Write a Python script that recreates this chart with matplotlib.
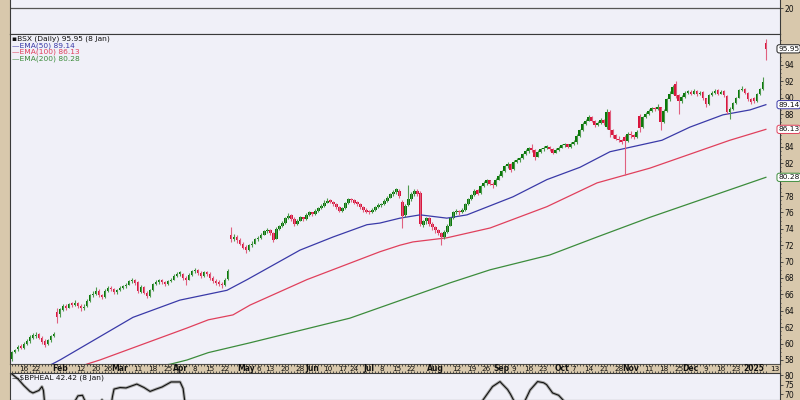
import numpy as np
import pandas as pd
import matplotlib
matplotlib.use("Agg")
import matplotlib.pyplot as plt
import matplotlib.transforms as mtransforms

# ---- data (BSX daily, 9 Jan 2024 .. 8 Jan 2025) ----
holidays = ["2024-01-15", "2024-02-19", "2024-03-29", "2024-05-27", "2024-06-19",
            "2024-07-04", "2024-09-02", "2024-11-28", "2024-12-25", "2025-01-01"]
dates = pd.bdate_range("2024-01-09", "2025-01-08", freq="C", holidays=holidays)

opens = [
    # Jan
    58.1, 59.0, 59.3, 59.7, 59.5, 59.9, 60.3, 60.7, 60.9, 61.2, 60.7, 60.3, 59.9, 60.4, 60.9, 63.9,
    # Feb
    63.6, 64.1, 64.6, 64.4, 64.9, 64.7, 65.0, 64.6, 64.3, 64.6, 65.2, 65.9, 66.1, 66.4, 65.9, 65.7,
    66.4, 66.8, 66.7, 66.3,
    # Mar
    66.5, 66.8, 67.0, 67.2, 67.6, 67.8, 67.5, 66.3, 66.9, 66.2, 65.8, 66.5, 67.3, 67.5, 67.8, 67.5,
    67.3, 67.6, 67.8, 68.3,
    # Apr
    68.5, 68.5, 68.0, 67.8, 68.4, 68.8, 69.0, 68.6, 68.2, 68.7, 68.5, 68.0, 67.6, 67.4, 67.3, 67.1,
    67.9, 73.3, 72.8, 73.0, 72.6, 72.2,
    # May
    71.8, 71.4, 72.0, 72.2, 72.7, 72.9, 73.3, 73.7, 73.9, 73.5, 72.8, 74.0, 74.3, 74.7, 75.3, 75.7,
    75.2, 74.6, 75.0, 75.4, 75.2, 75.7,
    # Jun
    76.0, 75.8, 76.2, 76.5, 76.8, 77.2, 77.4, 77.3, 77.0, 76.6, 76.2, 76.5, 77.1, 77.6, 77.5, 77.3,
    77.0, 76.6, 76.3,
    # Jul
    76.1, 76.0, 76.3, 76.6, 76.9, 77.0, 77.4, 77.8, 78.2, 78.5, 78.6, 77.3, 75.7, 76.9, 77.6, 78.3,
    78.6, 78.4, 74.5, 74.9, 75.3, 74.6,
    # Aug
    74.2, 73.8, 73.5, 73.0, 73.6, 74.4, 75.3, 76.0, 76.2, 76.0, 76.3, 77.0, 77.6, 78.1, 78.7, 78.4,
    79.2, 79.6, 79.9, 79.5, 79.3, 80.0,
    # Sep
    80.4, 81.0, 81.6, 81.9, 81.3, 82.2, 82.4, 82.6, 83.1, 83.5, 83.8, 83.6, 82.8, 83.4, 83.7, 83.9,
    84.0, 83.7, 83.3, 83.6,
    # Oct
    83.9, 84.2, 84.3, 84.0, 84.4, 84.6, 85.3, 86.0, 86.8, 87.2, 87.6, 87.2, 86.6, 86.9, 87.3, 86.4,
    88.3, 86.0, 85.4, 85.0, 84.8, 85.2, 84.7,
    # Nov
    85.6, 85.4, 85.2, 87.8, 86.4, 87.6, 88.0, 88.4, 88.7, 88.6, 88.8, 87.0, 88.4, 89.8, 90.5, 91.7,
    90.3, 89.6, 90.1, 90.6,
    # Dec
    90.7, 90.5, 90.8, 90.4, 90.7, 89.9, 89.2, 90.3, 90.6, 90.9, 90.5, 90.8, 90.2, 88.2, 88.6, 89.3,
    90.0, 90.9, 91.1, 90.6, 89.8,
    # Jan 2025
    89.9, 89.6, 90.4, 91.0, 96.7,
]
highs = [
    59.1, 59.4, 59.8, 59.9, 60.2, 60.5, 61.0, 61.3, 61.4, 61.3, 60.9, 60.5, 60.6, 61.0, 61.4, 64.3,
    64.4, 64.8, 64.8, 65.0, 65.1, 65.3, 65.1, 64.8, 64.8, 65.4, 66.1, 66.4, 66.9, 66.6, 66.1, 66.7,
    67.0, 67.0, 66.8, 66.7,
    67.0, 67.2, 67.4, 67.8, 68.0, 67.9, 67.6, 67.1, 67.0, 66.4, 66.7, 67.4, 67.7, 67.9, 67.9, 67.6,
    67.8, 68.0, 68.5, 68.7,
    68.9, 68.6, 68.2, 68.6, 69.0, 69.2, 69.1, 68.8, 68.9, 68.9, 68.7, 68.2, 67.9, 67.7, 67.5, 68.0,
    69.1, 74.2, 73.4, 73.2, 72.9, 72.4,
    72.0, 72.2, 72.5, 72.9, 73.1, 73.5, 73.9, 74.1, 74.0, 73.6, 74.2, 74.5, 74.9, 75.5, 75.9, 75.8,
    75.4, 75.2, 75.6, 75.5, 75.9, 76.2,
    76.1, 76.4, 76.7, 77.0, 77.5, 77.7, 77.6, 77.4, 77.1, 76.8, 76.7, 77.3, 77.8, 77.8, 77.6, 77.4,
    77.1, 76.8, 76.5,
    76.3, 76.5, 76.8, 77.1, 77.2, 77.6, 78.0, 78.4, 78.7, 79.0, 78.8, 77.5, 77.0, 79.3, 78.5, 78.8,
    78.9, 78.6, 75.1, 75.5, 75.4, 74.8,
    74.4, 74.0, 73.6, 73.8, 74.6, 75.5, 76.2, 76.4, 76.3, 76.5, 77.2, 77.8, 78.3, 78.8, 78.9, 79.4,
    79.8, 80.1, 80.0, 79.7, 80.2, 80.7,
    81.2, 81.8, 82.1, 82.0, 82.4, 82.6, 82.8, 83.3, 83.7, 84.0, 84.3, 83.7, 83.6, 83.9, 84.1, 84.2,
    84.1, 83.8, 83.8, 84.1,
    84.4, 84.5, 84.4, 84.6, 84.8, 85.6, 86.2, 87.0, 87.4, 87.9, 87.7, 87.3, 87.1, 87.5, 87.4, 88.6,
    88.5, 86.2, 85.6, 85.3, 85.0, 85.4, 85.8,
    85.9, 85.6, 86.1, 88.0, 87.8, 88.2, 88.6, 88.9, 88.9, 89.2, 88.9, 88.6, 90.0, 90.8, 91.5, 92.0,
    90.5, 90.3, 90.8, 90.9,
    90.9, 91.0, 90.9, 90.8, 90.8, 90.0, 90.5, 90.8, 91.0, 91.0, 90.9, 90.9, 90.3, 88.8, 89.5, 90.1,
    91.1, 91.4, 91.2, 90.7, 90.0,
    90.1, 90.6, 91.2, 92.5, 97.1,
]
lows = [
    57.9, 58.8, 59.1, 59.3, 59.3, 59.8, 60.1, 60.5, 60.7, 60.5, 60.0, 59.6, 59.8, 60.2, 60.8, 62.5,
    63.2, 64.0, 64.1, 64.3, 64.5, 64.6, 64.4, 64.0, 64.1, 64.5, 65.1, 65.7, 65.9, 65.7, 65.4, 65.6,
    66.3, 66.4, 66.1, 66.1,
    66.4, 66.6, 66.8, 67.1, 67.4, 67.2, 66.2, 66.2, 66.0, 65.5, 65.7, 66.4, 67.1, 67.3, 67.3, 67.0,
    67.2, 67.5, 67.7, 68.1,
    68.2, 67.8, 67.1, 67.7, 68.3, 68.6, 68.4, 68.0, 68.1, 68.3, 67.8, 67.4, 67.2, 67.0, 66.8, 67.0,
    67.8, 72.4, 72.5, 72.3, 72.0, 71.5,
    71.0, 71.3, 71.8, 72.1, 72.5, 72.8, 73.2, 73.5, 73.3, 72.4, 72.7, 73.9, 74.2, 74.6, 75.2, 75.0,
    74.3, 74.5, 74.9, 75.0, 75.1, 75.6,
    75.6, 75.7, 76.1, 76.4, 76.7, 77.1, 77.1, 76.8, 76.4, 76.0, 76.1, 76.4, 77.0, 77.3, 77.0, 76.8,
    76.4, 76.1, 75.9,
    75.8, 75.9, 76.2, 76.5, 76.7, 76.9, 77.3, 77.7, 78.0, 78.3, 77.8, 74.1, 75.5, 76.8, 77.4, 78.0,
    78.0, 74.3, 74.2, 74.6, 74.4, 73.9,
    73.5, 73.2, 72.0, 72.8, 73.5, 74.3, 75.2, 75.8, 75.7, 75.9, 76.2, 76.9, 77.5, 78.0, 78.1, 78.3,
    79.1, 79.4, 79.3, 79.0, 79.2, 79.9,
    80.3, 80.9, 81.4, 80.9, 81.2, 82.0, 82.2, 82.5, 83.0, 83.3, 83.4, 82.4, 82.7, 83.3, 83.5, 83.7,
    83.5, 83.1, 83.2, 83.5,
    83.8, 84.0, 83.8, 83.9, 84.2, 84.3, 85.2, 85.9, 86.6, 87.1, 87.0, 86.4, 86.5, 86.8, 86.7, 86.2,
    85.2, 85.1, 84.8, 84.6, 84.3, 80.6, 84.6,
    85.1, 84.9, 85.1, 85.8, 86.3, 87.5, 87.9, 88.3, 88.4, 88.5, 86.0, 86.9, 88.3, 89.6, 90.4, 89.9,
    88.0, 89.4, 90.0, 90.4,
    90.3, 90.4, 90.2, 90.3, 89.7, 88.9, 89.1, 90.2, 90.5, 90.3, 90.4, 90.1, 88.0, 87.4, 88.5, 89.2,
    89.9, 90.8, 90.4, 89.6, 89.2,
    89.3, 89.5, 90.3, 90.9, 94.6,
]
closes = [
    59.0, 59.2, 59.6, 59.5, 60.0, 60.3, 60.8, 61.0, 61.1, 60.7, 60.2, 59.8, 60.4, 60.9, 61.2, 63.3,
    64.2, 64.6, 64.4, 64.8, 64.7, 65.0, 64.6, 64.3, 64.5, 65.2, 65.9, 66.1, 66.4, 65.9, 65.7, 66.4,
    66.8, 66.6, 66.3, 66.5,
    66.8, 67.0, 67.2, 67.6, 67.8, 67.4, 66.4, 66.9, 66.2, 65.8, 66.5, 67.3, 67.5, 67.7, 67.5, 67.3,
    67.6, 67.8, 68.3, 68.5,
    68.6, 68.0, 67.8, 68.4, 68.8, 69.0, 68.6, 68.2, 68.7, 68.5, 68.0, 67.6, 67.4, 67.3, 67.1, 67.8,
    68.8, 72.8, 73.0, 72.6, 72.2, 71.7,
    71.4, 72.0, 72.2, 72.7, 72.9, 73.3, 73.7, 73.9, 73.5, 72.6, 74.0, 74.3, 74.7, 75.3, 75.6, 75.2,
    74.6, 75.0, 75.4, 75.2, 75.7, 76.0,
    75.8, 76.2, 76.5, 76.8, 77.2, 77.4, 77.3, 77.0, 76.6, 76.2, 76.5, 77.1, 77.6, 77.5, 77.2, 77.0,
    76.6, 76.3, 76.1,
    76.0, 76.3, 76.6, 76.9, 77.0, 77.4, 77.8, 78.2, 78.5, 78.8, 78.0, 75.6, 76.8, 77.6, 78.3, 78.6,
    78.2, 74.6, 74.9, 75.3, 74.6, 74.2,
    73.8, 73.5, 73.0, 73.6, 74.4, 75.3, 76.0, 76.2, 76.0, 76.3, 77.0, 77.6, 78.1, 78.6, 78.3, 79.2,
    79.6, 79.9, 79.5, 79.3, 80.0, 80.4,
    81.0, 81.6, 81.9, 81.2, 82.2, 82.4, 82.6, 83.1, 83.5, 83.8, 83.6, 82.7, 83.4, 83.7, 83.9, 84.0,
    83.7, 83.3, 83.6, 83.9,
    84.2, 84.3, 84.0, 84.4, 84.6, 85.3, 86.0, 86.8, 87.2, 87.6, 87.2, 86.6, 86.9, 87.3, 86.9, 88.2,
    86.0, 85.4, 85.0, 84.8, 84.6, 84.7, 85.6,
    85.4, 85.2, 85.8, 86.3, 87.6, 88.0, 88.4, 88.7, 88.6, 88.9, 87.0, 88.4, 89.8, 90.5, 91.3, 90.2,
    89.6, 90.1, 90.6, 90.7,
    90.5, 90.8, 90.4, 90.6, 89.9, 89.2, 90.3, 90.6, 90.8, 90.5, 90.7, 90.3, 88.3, 88.6, 89.3, 90.0,
    90.9, 91.1, 90.6, 89.8, 89.5,
    89.6, 90.4, 91.0, 91.9, 95.95,
]

# moving averages (bar index, value)
ema50_x = [0, 13.4, 16, 40.3, 55.9, 71.6, 78.3, 95.9, 106.9, 118.2, 122.5, 129.2, 135.9, 144.8,
           151.5, 166.8, 178.1, 189.1, 199.1, 216.4, 225.7, 236.7, 245.7, 251]
ema50_y = [55.6, 57.5, 58.0, 63.2, 65.3, 66.5, 67.8, 71.4, 73.0, 74.5, 74.7, 75.3, 75.7, 75.3,
           75.7, 77.9, 80.0, 81.5, 83.4, 84.8, 86.4, 87.9, 88.5, 89.14]
ema100_x = [15, 25.0, 29.3, 58.3, 65.4, 73.6, 79.3, 98.2, 122.5, 129.2, 133.5, 144.8, 159.2,
            178.1, 194.8, 212.4, 239.0, 251]
ema100_y = [56.2, 57.5, 58.0, 61.9, 62.9, 63.5, 64.7, 67.8, 71.2, 72.0, 72.4, 72.9, 74.1,
            76.7, 79.6, 81.4, 84.8, 86.13]
ema200_x = [45, 52.9, 58.3, 65.4, 79.3, 112.5, 145.8, 159.2, 179, 194.8, 212.4, 251]
ema200_y = [57.0, 57.5, 58.0, 58.9, 60.1, 63.1, 67.4, 69.0, 70.8, 73.0, 75.4, 80.28]

# $BPHEAL (lower panel, mostly below visible range)
bp_x = [0, 2, 4, 6, 7, 9, 10, 10.5, 11, 20, 21, 22, 23.5, 24.5, 25, 29, 30, 30.5, 33, 33.5, 34,
        36, 38, 41.6, 44, 46, 48, 50, 53, 56, 57, 57.5, 58, 155, 156.8, 160, 162.5, 163, 165,
        166, 167, 168, 170, 172.5, 175, 177, 178, 180, 182, 183.5, 185, 251]
bp_y = [80.5, 78, 74.5, 71.5, 70.7, 72.0, 74.0, 72, 64, 62, 66.5, 69.2, 69.5, 66, 62, 64, 67.2,
        64, 64, 69, 72.7, 73.5, 73.3, 75.3, 73.5, 71.5, 72.7, 73.8, 76.4, 76.4, 73, 67, 62, 62,
        67, 74, 76.6, 75.7, 72.5, 70, 67, 63, 64, 72.2, 76.6, 76, 75, 70.7, 69.5, 67, 62, 42.42]

TAN = "#d8c8ac"
PANEL = "#f0f0f8"
EDGE = "#3a3a3a"
C50, C100, C200 = "#3a3aa8", "#e0405c", "#3c8c3c"
UP, DOWN = "#087808", "#d8143c"

o, h, l, c = map(np.array, (opens, highs, lows, closes))
x = np.arange(len(dates))
XMIN, XMAX = -0.63, 255.7

fig = plt.figure(figsize=(8, 4), dpi=100, facecolor=TAN)
plt.rcParams["font.family"] = ["DejaVu Sans"]


def px_axes(x0, y0, x1, y1):
    return fig.add_axes([x0 / 800, 1 - y1 / 400, (x1 - x0) / 800, (y1 - y0) / 400])


def style(ax):
    ax.set_facecolor(PANEL)
    ax.set_xlim(XMIN, XMAX)
    for s in ax.spines.values():
        s.set_color(EDGE)
        s.set_linewidth(0.8)
    ax.set_xticks([])
    ax.yaxis.tick_right()
    ax.tick_params(axis="y", which="both", direction="out", length=2, width=0.6,
                   labelsize=5.5, pad=1, colors=EDGE, labelcolor="#111111")


# top panel (only its bottom part shows)
top = px_axes(10, 0, 780, 34)
style(top)
top.set_ylim(-6, 28)
top.axhline(20, color="#555555", lw=0.9)
top.set_yticks([20])
top.spines["top"].set_visible(False)

# main price panel
ax = px_axes(10, 34, 780, 364)
style(ax)
ax.set_ylim(57.51, 97.76)
ticks = [v for v in range(58, 96, 2) if v not in (80, 86)]
ax.set_yticks(ticks)
ax.set_yticks(np.arange(58, 97.5, 0.5), minor=True)
ax.tick_params(axis="y", which="minor", length=1)

ax.plot(ema200_x, ema200_y, color=C200, lw=0.9)
ax.plot(ema100_x, ema100_y, color=C100, lw=0.9)
ax.plot(ema50_x, ema50_y, color=C50, lw=0.9)

up = c >= o
col = np.where(up, UP, DOWN)
wick = np.where(up, "#4f9a4f", "#e0607f")
ax.vlines(x, l, h, colors=wick, lw=0.8)
body = np.maximum(np.abs(c - o), 0.18)
ax.bar(x, body, bottom=np.minimum(o, c), width=0.85, color=col, linewidth=0)

# last value boxes on the price axis
blend = mtransforms.blended_transform_factory(ax.transAxes, ax.transData)
for val, ec in [(closes[-1], "#222222"), (ema50_y[-1], C50), (ema100_y[-1], C100),
                (ema200_y[-1], C200)]:
    ax.text(0.9975, val, f"{val:.2f}", transform=blend, ha="left", va="center",
            fontsize=5.3, color="#111111", clip_on=False, zorder=5,
            bbox=dict(boxstyle="round,pad=0.15,rounding_size=0.3", fc="white", ec=ec, lw=0.7))

# legend text
fig.text(12 / 800, 1 - 39 / 400, "\u25aaBSX (Daily) 95.95 (8 Jan)", fontsize=5.4,
         color="#111111", va="center")
for i, (lab, colr) in enumerate([("EMA(50) 89.14", C50), ("EMA(100) 86.13", C100),
                                 ("EMA(200) 80.28", C200)]):
    fig.text(12 / 800, 1 - (45.5 + 6.7 * i) / 400, "\u2014" + lab, fontsize=5.4, color=colr,
             va="center")

# date strip
strip = px_axes(10, 364, 780, 373)
strip.set_facecolor(TAN)
strip.set_xlim(XMIN, XMAX)
strip.set_ylim(0, 1)
strip.set_yticks([])
strip.set_xticks(x, minor=True)
strip.set_xticks([])
strip.tick_params(axis="x", which="minor", direction="in", length=1.2, width=0.6,
                  top=True, bottom=True, colors=EDGE)
for s in strip.spines.values():
    s.set_color(EDGE)
    s.set_linewidth(0.6)
    s.set_linestyle((0, (1, 1)))

month_idx = [i for i in range(1, len(dates)) if dates[i].month != dates[i - 1].month]
week_idx = [i for i in range(1, len(dates))
            if dates[i].isocalendar()[1] != dates[i - 1].isocalendar()[1]]
labels = []
for i in month_idx:
    name = "2025" if dates[i].year == 2025 else dates[i].strftime("%b")
    labels.append((i, name, True, 0))
for i in week_idx:
    # week labels give way to a nearby month label
    if any(-2 <= m - i <= 3 for m in month_idx):
        continue
    # squeezed right behind a month name (like "May6")
    nudge = 2.5 if any(m - i == -3 for m in month_idx) else 0
    labels.append((i, str(dates[i].day), False, nudge))
labels.append((254, "13", False, 0))
for i, txt, bold, nudge in labels:
    strip.annotate(txt, (i, 0.45), xytext=(nudge, 0), textcoords="offset points",
                   ha="center", va="center", fontsize=5.5 if bold else 5.2,
                   fontweight="bold" if bold else "normal", color="#111111")

# lower panel $BPHEAL
bot = px_axes(10, 373, 780, 400)
style(bot)
bot.set_ylim(67.05, 81.04)
bot.set_yticks([70, 75, 80])
bot.plot(bp_x, bp_y, color="#aaaaaa", lw=2.2, solid_joinstyle="round")
bot.plot(bp_x, bp_y, color="#111111", lw=0.8)
fig.text(12 / 800, 1 - 378 / 400, "\u2014$BPHEAL 42.42 (8 Jan)", fontsize=5.4, color="#111111",
         va="center")

fig.savefig("out.png", dpi=100, facecolor=TAN)
